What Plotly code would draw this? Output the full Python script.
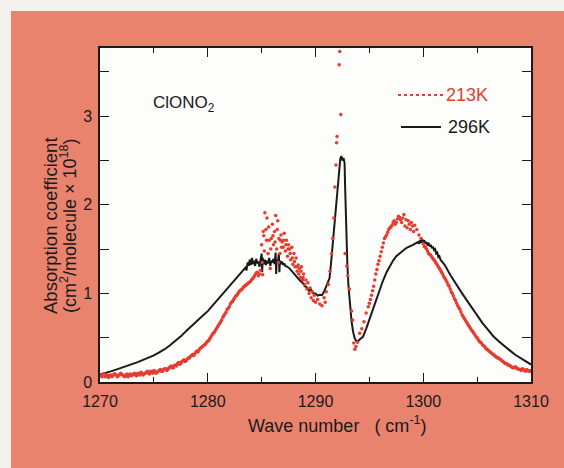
import plotly.graph_objects as go

# ---------------- data ----------------
# 296 K spectrum (solid black line)
black_wn = [1270.0, 1270.5, 1271.0, 1271.5, 1272.0, 1272.5, 1273.0, 1273.5, 1274.0, 1274.5,
            1275.0, 1275.5, 1276.0, 1276.5, 1277.0, 1277.5, 1278.0, 1278.5, 1279.0, 1279.5,
            1280.0, 1280.5, 1281.0, 1281.5, 1282.0, 1282.5, 1283.0, 1283.3,
            1283.5, 1283.6, 1283.7, 1283.8, 1283.9, 1284.0, 1284.1, 1284.2, 1284.3, 1284.4,
            1284.5, 1284.6, 1284.7, 1284.8, 1284.9, 1285.0, 1285.05, 1285.1, 1285.2, 1285.3,
            1285.4, 1285.5, 1285.6, 1285.7, 1285.8, 1285.9, 1286.0, 1286.1, 1286.2, 1286.3,
            1286.35, 1286.4, 1286.5, 1286.6, 1286.65, 1286.7, 1286.8, 1286.9, 1287.0, 1287.1,
            1287.2, 1287.4, 1287.6, 1287.8, 1288.0, 1288.2, 1288.4, 1288.6, 1288.8, 1289.0,
            1289.2, 1289.4, 1289.6, 1289.8, 1290.0, 1290.2, 1290.4, 1290.6, 1290.8, 1291.0,
            1291.15, 1291.3, 1291.45, 1291.6, 1291.75, 1291.9, 1292.05, 1292.2, 1292.3, 1292.4,
            1292.5, 1292.6, 1292.7, 1292.75, 1292.8, 1292.85, 1292.95, 1293.05, 1293.2, 1293.35,
            1293.5, 1293.65, 1293.8, 1293.95, 1294.1, 1294.4, 1294.7, 1295.0, 1295.3, 1295.65,
            1296.0, 1296.25, 1296.6, 1296.9, 1297.2, 1297.5, 1298.0, 1298.45, 1299.0, 1299.4,
            1299.5, 1299.6, 1299.7, 1299.8, 1299.9, 1300.0, 1300.1, 1300.2, 1300.3, 1300.4,
            1300.5, 1300.6, 1300.7, 1300.8, 1300.9, 1301.0, 1301.1, 1301.2, 1301.3, 1301.4,
            1301.5, 1301.6, 1301.8, 1302.0, 1302.5, 1303.0, 1303.5, 1304.0, 1304.5, 1305.0,
            1305.5, 1306.0, 1306.5, 1307.0, 1307.5, 1308.0, 1308.5, 1309.0, 1309.5, 1310.0]
black_abs = [0.085, 0.10, 0.12, 0.14, 0.16, 0.18, 0.20, 0.225, 0.25, 0.275,
             0.30, 0.335, 0.37, 0.415, 0.46, 0.515, 0.575, 0.635, 0.69, 0.745,
             0.80, 0.87, 0.94, 1.01, 1.08, 1.145, 1.21, 1.25,
             1.29, 1.26, 1.35, 1.31, 1.38, 1.32, 1.40, 1.33, 1.37, 1.31,
             1.39, 1.34, 1.36, 1.30, 1.38, 1.45, 1.24, 1.40, 1.33, 1.38,
             1.32, 1.37, 1.34, 1.40, 1.31, 1.37, 1.35, 1.39, 1.33, 1.46,
             1.22, 1.38, 1.34, 1.45, 1.24, 1.37, 1.33, 1.36, 1.32, 1.34,
             1.31, 1.30, 1.28, 1.25, 1.23, 1.19, 1.17, 1.14, 1.12, 1.08,
             1.07, 1.03, 1.04, 1.00, 1.00, 0.975, 0.985, 0.98, 1.02, 1.08,
             1.12, 1.17, 1.35, 1.55, 1.75, 1.93, 2.12, 2.38, 2.52, 2.55,
             2.50, 2.53, 2.47, 2.20, 1.90, 1.62, 1.35, 1.10, 0.86, 0.68,
             0.56, 0.49, 0.46, 0.46, 0.48, 0.51, 0.60, 0.705, 0.82, 0.93,
             1.05, 1.14, 1.24, 1.31, 1.37, 1.42, 1.475, 1.515, 1.545, 1.57,
             1.58, 1.56, 1.60, 1.57, 1.61, 1.58, 1.60, 1.56, 1.58, 1.54,
             1.57, 1.53, 1.55, 1.51, 1.53, 1.49, 1.50, 1.45, 1.46, 1.41,
             1.42, 1.38, 1.35, 1.32, 1.21, 1.11, 1.02, 0.93, 0.84, 0.75,
             0.665, 0.59, 0.517, 0.46, 0.405, 0.36, 0.31, 0.27, 0.23, 0.197]

# 213 K spectrum (red dots), main sampling
red_wn = [1270.0, 1270.2, 1270.4, 1270.6, 1270.8, 1271.0, 1271.2, 1271.4, 1271.6, 1271.8,
          1272.0, 1272.2, 1272.4, 1272.6, 1272.8, 1273.0, 1273.2, 1273.4, 1273.6, 1273.8,
          1274.0, 1274.2, 1274.4, 1274.6, 1274.8, 1275.0, 1275.2, 1275.4, 1275.6, 1275.8,
          1276.0, 1276.2, 1276.4, 1276.6, 1276.8, 1277.0, 1277.2, 1277.4, 1277.6, 1277.8,
          1278.0, 1278.2, 1278.4, 1278.6, 1278.8, 1279.0, 1279.2, 1279.4, 1279.6, 1279.8,
          1280.0, 1280.2, 1280.4, 1280.6, 1280.8, 1281.0, 1281.2, 1281.4, 1281.6, 1281.8,
          1282.0, 1282.2, 1282.4, 1282.6, 1282.8, 1283.0, 1283.2, 1283.4, 1283.6, 1283.8,
          1284.0, 1284.2, 1284.4, 1284.6, 1284.8,
          1285.0, 1285.1, 1285.2, 1285.3, 1285.4, 1285.5, 1285.6, 1285.7, 1285.8, 1285.9,
          1286.0, 1286.1, 1286.2, 1286.3, 1286.4, 1286.5, 1286.6, 1286.7, 1286.8, 1286.9,
          1287.0, 1287.1, 1287.2, 1287.3, 1287.4, 1287.5, 1287.6, 1287.7, 1287.8, 1287.9,
          1288.0, 1288.1, 1288.2, 1288.3, 1288.4, 1288.5, 1288.6, 1288.7, 1288.8, 1288.9,
          1289.0, 1289.1, 1289.2, 1289.3, 1289.4, 1289.5, 1289.6, 1289.7, 1289.8, 1289.9,
          1290.0, 1290.2, 1290.4, 1290.6, 1290.8, 1290.9, 1291.0, 1291.2, 1291.35, 1291.5,
          1291.6, 1291.7, 1291.8, 1291.9, 1291.95, 1292.0, 1292.2, 1292.25, 1292.35, 1292.75,
          1292.9, 1293.0, 1293.15, 1293.35, 1293.45, 1293.55, 1293.65, 1293.75, 1293.9, 1294.1,
          1294.3, 1294.5, 1294.7, 1294.9, 1295.0, 1295.2, 1295.4, 1295.6, 1295.8, 1296.0,
          1296.2, 1296.4, 1296.6, 1296.8, 1297.0, 1297.2, 1297.4, 1297.6, 1297.8, 1298.0,
          1298.1, 1298.2, 1298.3, 1298.4, 1298.5, 1298.6, 1298.7, 1298.8, 1298.9, 1299.0,
          1299.1, 1299.2, 1299.4, 1299.6, 1299.8, 1300.0, 1300.2, 1300.4, 1300.6, 1300.8,
          1301.0, 1301.2, 1301.4, 1301.6, 1301.8, 1302.0, 1302.2, 1302.4, 1302.6, 1302.8,
          1303.0, 1303.2, 1303.4, 1303.6, 1303.8, 1304.0, 1304.2, 1304.4, 1304.6, 1304.8,
          1305.0, 1305.2, 1305.4, 1305.6, 1305.8, 1306.0, 1306.2, 1306.4, 1306.6, 1306.8,
          1307.0, 1307.2, 1307.4, 1307.6, 1307.8, 1308.0, 1308.2, 1308.4, 1308.6, 1308.8,
          1309.0, 1309.2, 1309.4, 1309.6, 1309.8, 1310.0]
red_abs = [0.08, 0.06, 0.09, 0.07, 0.05, 0.08, 0.07, 0.09, 0.06, 0.08,
           0.09, 0.07, 0.08, 0.06, 0.09, 0.08, 0.10, 0.07, 0.09, 0.11,
           0.08, 0.10, 0.12, 0.09, 0.11, 0.13, 0.10, 0.12, 0.14, 0.12,
           0.15, 0.13, 0.16, 0.18, 0.16, 0.19, 0.21, 0.20, 0.23, 0.25,
           0.24, 0.27, 0.29, 0.31, 0.32, 0.35, 0.36, 0.39, 0.41, 0.43,
           0.46, 0.49, 0.53, 0.56, 0.60, 0.64, 0.68, 0.73, 0.77, 0.82,
           0.85, 0.90, 0.93, 0.97, 1.00, 1.03, 1.05, 1.08, 1.10, 1.12,
           1.14, 1.17, 1.21, 1.24, 1.22,
           1.55, 1.21, 1.65, 1.91, 1.72, 1.85, 1.45, 1.60, 1.28, 1.62,
           1.78, 1.55, 1.70, 1.88, 1.50, 1.82, 1.62, 1.45, 1.66, 1.58,
           1.52, 1.68, 1.48, 1.60, 1.42, 1.55, 1.50, 1.38, 1.52, 1.33,
           1.45, 1.30, 1.40, 1.25, 1.32, 1.28, 1.18, 1.30, 1.15, 1.22,
           1.10, 1.15, 1.05, 1.12, 1.00, 1.06, 0.95, 1.02, 0.92, 0.98,
           0.90, 0.93, 0.88, 0.86, 0.95, 0.90, 1.02, 1.10, 1.25, 1.45,
           1.62, 1.85, 2.20, 2.45, 2.70, 2.77, 3.58, 3.73, 3.02, 1.45,
           1.31, 1.20, 1.05, 0.80, 0.70, 0.44, 0.37, 0.40, 0.45, 0.55,
           0.60, 0.68, 0.78, 0.85, 0.89, 0.98, 1.08, 1.22, 1.33, 1.42,
           1.52, 1.62, 1.66, 1.72, 1.75, 1.80, 1.78, 1.84, 1.86, 1.80,
           1.85, 1.89, 1.76, 1.83, 1.74, 1.82, 1.78, 1.72, 1.80, 1.76,
           1.70, 1.77, 1.72, 1.66, 1.62, 1.56, 1.52, 1.48, 1.44, 1.41,
           1.38, 1.34, 1.30, 1.26, 1.22, 1.17, 1.13, 1.08, 1.02, 0.97,
           0.92, 0.86, 0.82, 0.76, 0.72, 0.68, 0.64, 0.60, 0.57, 0.53,
           0.50, 0.46, 0.44, 0.41, 0.38, 0.36, 0.34, 0.32, 0.30, 0.28,
           0.27, 0.25, 0.23, 0.21, 0.20, 0.19, 0.17, 0.16, 0.17, 0.15,
           0.14, 0.15, 0.13, 0.14, 0.12, 0.13]

# 213 K spectrum (red dots), interleaved extra points
red2_wn = [1270.1, 1270.3, 1270.5, 1270.7, 1270.9, 1271.1, 1271.3, 1271.5, 1271.7, 1271.9,
           1272.1, 1272.3, 1272.5, 1272.7, 1272.9, 1273.1, 1273.3, 1273.5, 1273.7, 1273.9,
           1274.1, 1274.3, 1274.5, 1274.7, 1274.9, 1275.1, 1275.3, 1275.5, 1275.7, 1275.9,
           1276.1, 1276.3, 1276.5, 1276.7, 1276.9, 1277.1, 1277.3, 1277.5, 1277.7, 1277.9,
           1278.1, 1278.3, 1278.5, 1278.7, 1278.9, 1279.1, 1279.3, 1279.5, 1279.7, 1279.9,
           1280.1, 1280.3, 1280.5, 1280.7, 1280.9, 1281.1, 1281.3, 1281.5, 1281.7, 1281.9,
           1282.1, 1282.3, 1282.5, 1282.7, 1282.9, 1283.1, 1283.3, 1283.5, 1283.7, 1283.9,
           1284.1, 1284.3, 1284.5, 1284.7, 1284.9,
           1285.05, 1285.15, 1285.25, 1285.45, 1285.65, 1285.85, 1286.05, 1286.25, 1286.45, 1286.55,
           1286.75, 1286.85, 1287.05, 1287.25, 1287.45, 1287.65, 1287.85, 1288.05, 1288.25, 1288.45,
           1288.65, 1288.85,
           1295.1, 1295.3, 1295.5, 1295.7, 1295.9, 1296.1, 1296.3, 1296.5, 1296.7, 1296.9,
           1297.1, 1297.3, 1297.5, 1297.7, 1297.9,
           1300.1, 1300.3, 1300.5, 1300.7, 1300.9, 1301.1, 1301.3, 1301.5, 1301.7, 1301.9,
           1302.1, 1302.3, 1302.5, 1302.7, 1302.9, 1303.1, 1303.3, 1303.5, 1303.7, 1303.9,
           1304.1, 1304.3, 1304.5, 1304.7, 1304.9, 1305.1, 1305.3, 1305.5, 1305.7, 1305.9,
           1306.1, 1306.3, 1306.5, 1306.7, 1306.9, 1307.1, 1307.3, 1307.5, 1307.7, 1307.9,
           1308.1, 1308.3, 1308.5, 1308.7, 1308.9, 1309.1, 1309.3, 1309.5, 1309.7, 1309.9]
red2_abs = [0.07, 0.09, 0.06, 0.08, 0.07, 0.06, 0.09, 0.08, 0.07, 0.10,
            0.08, 0.06, 0.09, 0.08, 0.07, 0.09, 0.08, 0.10, 0.08, 0.10,
            0.09, 0.11, 0.10, 0.12, 0.10, 0.12, 0.11, 0.13, 0.12, 0.14,
            0.15, 0.14, 0.17, 0.16, 0.19, 0.18, 0.22, 0.21, 0.24, 0.23,
            0.26, 0.27, 0.30, 0.30, 0.34, 0.34, 0.38, 0.40, 0.42, 0.45,
            0.47, 0.51, 0.55, 0.58, 0.62, 0.66, 0.70, 0.75, 0.79, 0.83,
            0.88, 0.91, 0.95, 0.98, 1.02, 1.04, 1.07, 1.09, 1.11, 1.13,
            1.16, 1.19, 1.23, 1.20, 1.26,
            1.35, 1.70, 1.48, 1.60, 1.75, 1.50, 1.65, 1.58, 1.72, 1.35,
            1.60, 1.52, 1.60, 1.55, 1.50, 1.45, 1.40, 1.36, 1.30, 1.22,
            1.25, 1.18,
            0.93, 1.03, 1.15, 1.27, 1.37, 1.47, 1.57, 1.64, 1.69, 1.74,
            1.77, 1.82, 1.80, 1.87, 1.83,
            1.53, 1.50, 1.45, 1.43, 1.39, 1.36, 1.32, 1.28, 1.24, 1.19,
            1.15, 1.10, 1.05, 1.00, 0.94, 0.89, 0.84, 0.79, 0.74, 0.70,
            0.66, 0.62, 0.58, 0.55, 0.51, 0.48, 0.45, 0.42, 0.40, 0.37,
            0.35, 0.33, 0.31, 0.29, 0.27, 0.26, 0.24, 0.22, 0.21, 0.19,
            0.18, 0.16, 0.17, 0.15, 0.14, 0.13, 0.14, 0.12, 0.13, 0.12]

x_tickvals = [1270, 1280, 1290, 1300, 1310]
x_ticktext = ["1270", "1280", "1290", "1300", "1310"]
y_tickvals = [0, 1, 2, 3]
y_ticktext = ["0", "1", "2", "3"]

CORAL = "#e9836e"
STRIP = "#f4f2ef"
RED = "#e63b2e"
INK = "#1a1a1a"
FONT = "Liberation Sans, Arial, Helvetica, sans-serif"

W, H = 564, 468
ML, MR, MT, MB = 100, 33, 48, 86
PW, PH = W - ML - MR, H - MT - MB


def px(xp):
    return (xp - ML) / PW


def py(yp):
    return (H - MB - yp) / PH


fig = go.Figure()
fig.add_trace(go.Scatter(x=black_wn, y=black_abs, mode="lines",
                         line=dict(color=INK, width=2), name="296K", showlegend=False))
fig.add_trace(go.Scatter(x=red_wn + red2_wn, y=red_abs + red2_abs, mode="markers",
                         marker=dict(color=RED, size=3.5, line=dict(width=0)),
                         name="213K", showlegend=False))

axis_common = dict(showline=True, linecolor=INK, linewidth=1.5, mirror="ticks",
                   ticks="inside", tickcolor=INK, tickwidth=1.3, showgrid=False,
                   zeroline=False, tickfont=dict(family=FONT, size=16, color=INK))

fig.update_xaxes(range=[1270, 1310], tickvals=x_tickvals, ticktext=x_ticktext,
                 ticklen=9, ticklabelstandoff=4,
                 minor=dict(dtick=5, tick0=1270, ticks="inside", ticklen=5,
                            tickcolor=INK, tickwidth=1.3, showgrid=False),
                 **axis_common)
fig.update_yaxes(range=[0, 3.77], tickvals=y_tickvals, ticktext=y_ticktext,
                 ticklen=9, ticklabelstandoff=3,
                 minor=dict(dtick=0.5, tick0=0, ticks="inside", ticklen=9,
                            tickcolor=INK, tickwidth=1.3, showgrid=False),
                 **axis_common)

shapes = [
    dict(type="rect", xref="paper", yref="paper", x0=px(0), x1=px(W), y0=py(0), y1=py(11),
         fillcolor=STRIP, line=dict(width=0), layer="below"),
    dict(type="rect", xref="paper", yref="paper", x0=px(0), x1=px(11), y0=py(H), y1=py(0),
         fillcolor=STRIP, line=dict(width=0), layer="below"),
    # legend keys
    dict(type="line", xref="paper", yref="paper", x0=px(398), x1=px(443), y0=py(95), y1=py(95),
         line=dict(color=RED, width=2, dash="dot")),
    dict(type="line", xref="paper", yref="paper", x0=px(401), x1=px(441), y0=py(127), y1=py(127),
         line=dict(color=INK, width=1.8)),
]

annotations = [
    dict(text="ClONO<sub>2</sub>", xref="paper", yref="paper", x=px(151), y=py(104),
         xanchor="left", yanchor="middle", showarrow=False,
         font=dict(family=FONT, size=17, color=INK)),
    dict(text="213K", xref="paper", yref="paper", x=px(444), y=py(95),
         xanchor="left", yanchor="middle", showarrow=False,
         font=dict(family=FONT, size=18, color=RED)),
    dict(text="296K", xref="paper", yref="paper", x=px(446), y=py(127),
         xanchor="left", yanchor="middle", showarrow=False,
         font=dict(family=FONT, size=18, color=INK)),
    dict(text="Absorption coefficient", xref="paper", yref="paper", x=px(50), y=py(226),
         xanchor="center", yanchor="middle", textangle=-90, showarrow=False,
         font=dict(family=FONT, size=18.5, color=INK)),
    dict(text="(cm<sup>2</sup>/molecule × 10<sup>18</sup>)", xref="paper", yref="paper",
         x=px(68), y=py(226), xanchor="center", yanchor="middle", textangle=-90,
         showarrow=False, font=dict(family=FONT, size=18, color=INK)),
    dict(text="Wave number   ( cm<sup>-1</sup>)", xref="paper", yref="paper",
         x=px(337), y=py(424), xanchor="center", yanchor="middle", showarrow=False,
         font=dict(family=FONT, size=18, color=INK)),
]

fig.update_layout(width=W, height=H, margin=dict(l=ML, r=MR, t=MT, b=MB),
                  paper_bgcolor=CORAL, plot_bgcolor="#fdfdfb",
                  shapes=shapes, annotations=annotations, showlegend=False)

fig.write_html("out.html", config={"displayModeBar": False},
               post_script="document.body.style.margin='0';")
